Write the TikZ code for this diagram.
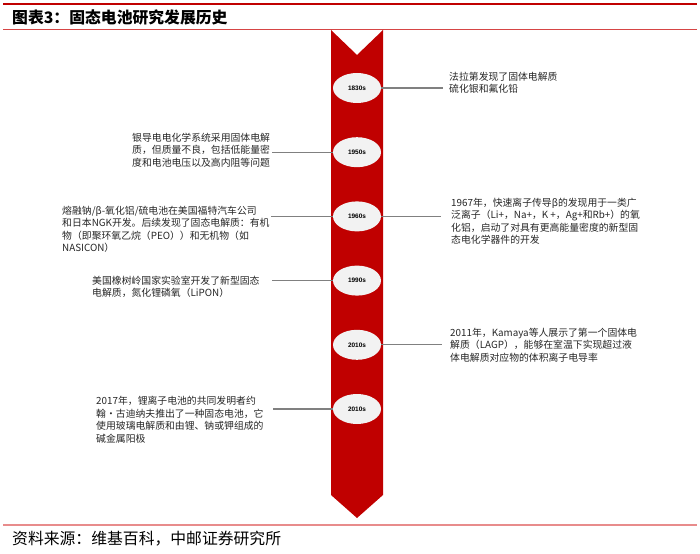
\documentclass[tikz,border=0pt]{standalone}
\usepackage{fontspec}
\setmainfont{Noto Sans CJK SC}
\newfontfamily\yearfont{Liberation Sans}
\usetikzlibrary{shapes.geometric}
\definecolor{barred}{HTML}{C00000}
\definecolor{rulered}{HTML}{D64545}
\definecolor{footred}{HTML}{E88C8C}
\definecolor{ovalgray}{HTML}{F2F2F2}
\tikzset{
  yearnode/.style={ellipse,fill=ovalgray,minimum width=14.4mm,
    minimum height=9mm,inner sep=0pt,
    font=\yearfont\bfseries\fontsize{5.5}{6}\selectfont},
  eventnode/.style={anchor=north west,align=left,inner sep=0pt,
    text=black!85,font=\fontsize{8.4}{10.65}\selectfont},
  linkedge/.style={line width=0.9pt,black!50},
  headrule/.style={line width=2pt,barred},
  subrule/.style={line width=0.8pt,rulered},
  footrule/.style={line width=1.1pt,footred}
}
\begin{document}
\begin{tikzpicture}[x=0.3mm,y=-0.3mm]
  \useasboundingbox (0,0) rectangle (700,554);

  % header and footer
  \draw[headrule] (3,4) -- (697,4);
  \node[anchor=west,inner sep=0pt,font=\bfseries\fontsize{13.5}{15}\selectfont]
    (title) at (12,17) {图表3：固态电池研究发展历史};
  \draw[subrule] (3,29.5) -- (697,29.5);
  \draw[footrule] (3,525) -- (697,525);
  \node[anchor=west,inner sep=0pt,font=\fontsize{13.5}{15}\selectfont]
    (source) at (12,539) {资料来源：维基百科，中邮证券研究所};

  % timeline arrow
  \fill[barred] (331,30) -- (357,55) -- (383,30) -- (383,495)
    -- (357,518) -- (331,495) -- cycle;

  \node[yearnode] (y1830) at (357,88) {1830s};
  \node[yearnode] (y1950) at (357,152.2) {1950s};
  \node[yearnode] (y1960) at (357,216.4) {1960s};
  \node[yearnode] (y1990) at (357,280.6) {1990s};
  \node[yearnode] (y2010a) at (357,344.8) {2010s};
  \node[yearnode] (y2010b) at (357,409) {2010s};

  \coordinate (c1830) at (443,88);
  \coordinate (c1950) at (272,152.2);
  \coordinate (c1960l) at (271,216.4);
  \coordinate (c1960r) at (441,216.4);
  \coordinate (c1990) at (272,280.6);
  \coordinate (c2010a) at (442,344.8);
  \coordinate (c2010b) at (273,409);

  \draw[linkedge] (y1830.east) -- (c1830);
  \draw[linkedge] (c1950) -- (y1950.west);
  \draw[linkedge] (c1960l) -- (y1960.west);
  \draw[linkedge] (y1960.east) -- (c1960r);
  \draw[linkedge] (c1990) -- (y1990.west);
  \draw[linkedge] (y2010a.east) -- (c2010a);
  \draw[linkedge] (c2010b) -- (y2010b.west);

  % events
  \node[eventnode] (ev1830) at (449,71.5)
    {法拉第发现了固体电解质\\硫化银和氟化铅};
  \node[eventnode] (ev1950) at (132,132.5)
    {银导电电化学系统采用固体电解\\质，但质量不良，包括低能量密\\度和电池电压以及高内阻等问题};
  \node[eventnode] (ev1960l) at (62,205.5)
    {熔融钠/β-氧化铝/硫电池在美国福特汽车公司\\和日本NGK开发。后续发现了固态电解质：有机\\物（即聚环氧乙烷（PEO））和无机物（如\\NASICON）};
  \node[eventnode] (ev1960r) at (451,197.5)
    {1967年，快速离子传导β的发现用于一类广\\泛离子（Li+，Na+，K +，Ag+和Rb+）的氧\\化铝，启动了对具有更高能量密度的新型固\\态电化学器件的开发};
  \node[eventnode] (ev1990) at (92,275.5)
    {美国橡树岭国家实验室开发了新型固态\\电解质，氮化锂磷氧（LiPON）};
  \node[eventnode] (ev2010a) at (450,327.5)
    {2011年，Kamaya等人展示了第一个固体电\\解质（LAGP），能够在室温下实现超过液\\体电解质对应物的体积离子电导率};
  \node[eventnode] (ev2010b) at (96,396)
    {2017年，锂离子电池的共同发明者约\\翰·古迪纳夫推出了一种固态电池，它\\使用玻璃电解质和由锂、钠或钾组成的\\碱金属阳极};
\end{tikzpicture}
\end{document}
